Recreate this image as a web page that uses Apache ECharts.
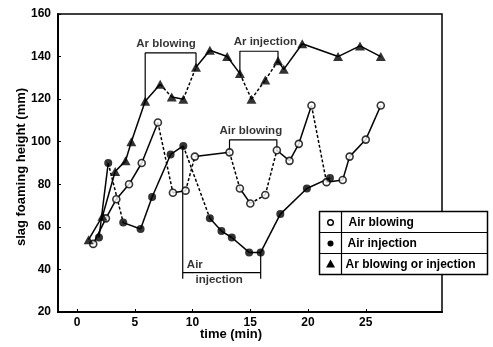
<!DOCTYPE html>
<html>
<head>
<meta charset="utf-8">
<script src="https://cdn.jsdelivr.net/npm/echarts@6/dist/echarts.min.js"></script>
<style>
  html, body { margin: 0; padding: 0; background: #fff; }
  #chart { width: 493px; height: 347px; }
</style>
</head>
<body>
<div id="chart"></div>
<script>
// Air blowing (open circles)
var blowX = [1.4, 2.5, 3.4, 4.5, 5.6, 7.0, 8.3, 9.4, 10.2, 13.2, 14.1, 15.0, 16.3, 17.3, 18.4, 19.2, 20.3, 21.6, 23.0, 23.6, 25.0, 26.3];
var blowY = [52, 64, 73, 80, 90, 109, 76, 77, 93, 95, 78, 71, 75, 96, 91, 99, 117, 81, 82, 93, 101, 117];
var blowDashedSegs = [5, 7, 9, 11, 12, 16];

// Air injection (filled circles)
var injX = [1.9, 2.7, 4.0, 5.5, 6.5, 8.1, 9.2, 11.5, 12.5, 13.4, 14.9, 15.9, 17.6, 19.9, 21.9];
var injY = [55, 90, 62, 59, 74, 94, 98, 64, 58, 55, 48, 48, 66, 78, 83];
var injDashedSegs = [1, 6];

// Ar blowing or injection (triangles)
var bothX = [1.0, 2.2, 3.3, 4.2, 4.7, 5.9, 7.2, 8.2, 9.2, 10.3, 11.5, 13.0, 14.1, 15.1, 16.3, 17.4, 17.9, 19.5, 22.6, 24.5, 26.3];
var bothY = [54, 65, 86, 91, 100, 119, 127, 121, 120, 135, 143, 140, 132, 120, 129, 138, 134, 146, 140, 145, 140];
var bothDashedSegs = [6, 8, 12, 13, 14];

var xTicks = [0, 5, 10, 15, 20, 25];
var legendNames = ['Air blowing', 'Air injection', 'Ar blowing or injection'];

// bracket annotations (data coordinates)
var brackets = [
    [[5.9, 119], [5.9, 141.7], [10.3, 141.7], [10.3, 135]],
    [[14.1, 132], [14.1, 142.5], [17.4, 142.5], [17.4, 138]],
    [[13.2, 95], [13.2, 100.9], [17.3, 100.9], [17.3, 96]],
    [[9.15, 98], [9.15, 35.6], [9.15, 38.5], [15.9, 38.5], [15.9, 48], [15.9, 35.6]]
];
var notes = [
    {name: 'Ar blowing', value: [7.7, 145.9]},
    {name: 'Ar injection', value: [16.3, 147.1]},
    {name: 'Air blowing', value: [15.05, 105]},
    {name: 'Air', value: [10.2, 42.2]},
    {name: 'injection', value: [12.3, 35.1]}
];

var font = 'Liberation Sans';

function zip(xs, ys) {
    return xs.map(function (x, i) { return [x, ys[i]]; });
}

function segmentSeries(xs, ys, dashed) {
    var out = [];
    for (var i = 0; i < xs.length - 1; i++) {
        var isDash = dashed.indexOf(i) >= 0;
        out.push({
            type: 'line',
            data: [[xs[i], ys[i]], [xs[i + 1], ys[i + 1]]],
            symbol: 'none',
            silent: true,
            lineStyle: {color: '#000', width: 1.5, type: isDash ? [3, 2] : 'solid'},
            z: 2
        });
    }
    return out;
}

var series = [];
series = series.concat(segmentSeries(blowX, blowY, blowDashedSegs));
series = series.concat(segmentSeries(injX, injY, injDashedSegs));
series = series.concat(segmentSeries(bothX, bothY, bothDashedSegs));

brackets.forEach(function (b) {
    series.push({
        type: 'line',
        data: b,
        symbol: 'none',
        silent: true,
        lineStyle: {color: '#000', width: 1.2},
        z: 1
    });
});

series.push({
    type: 'scatter', data: zip(blowX, blowY), symbol: 'circle', symbolSize: 7,
    itemStyle: {color: '#fff', borderColor: '#000', borderWidth: 1.6}, z: 5
});
series.push({
    type: 'scatter', data: zip(injX, injY), symbol: 'circle', symbolSize: 8,
    itemStyle: {color: '#000'}, z: 5
});
series.push({
    type: 'scatter', data: zip(bothX, bothY), symbol: 'triangle', symbolSize: [10, 9],
    itemStyle: {color: '#000'}, z: 5
});
series.push({
    type: 'scatter', data: notes, symbolSize: 0, silent: true,
    label: {
        show: true, position: 'inside', formatter: '{b}',
        color: '#000', fontFamily: font, fontWeight: 'bold', fontSize: 11.5,
        backgroundColor: '#fff', padding: [0, 1]
    },
    z: 6
});

var chart = echarts.init(document.getElementById('chart'));

var option = {
    animation: false,
    backgroundColor: '#fff',
    grid: {
        left: 58, right: 51, top: 14, bottom: 35,
        show: true, borderColor: '#000', borderWidth: 1.5
    },
    xAxis: {
        type: 'value',
        min: -1.65, max: 31.6,
        name: 'time (min)',
        nameLocation: 'middle',
        nameGap: 16,
        nameMoveOverlap: false,
        nameTextStyle: {color: '#000', fontFamily: font, fontWeight: 'bold', fontSize: 13, padding: [0, 38, 0, 0]},
        splitLine: {show: false},
        axisLine: {onZero: false, lineStyle: {color: '#000', width: 2}},
        axisTick: {inside: true, length: 3, customValues: xTicks, lineStyle: {color: '#000'}},
        axisLabel: {customValues: xTicks, color: '#000', fontFamily: font, fontWeight: 'bold', fontSize: 12, margin: 5}
    },
    yAxis: {
        type: 'value',
        min: 20, max: 160, interval: 20,
        name: 'slag foaming height (mm)',
        nameLocation: 'middle',
        nameGap: 30,
        nameMoveOverlap: false,
        nameTextStyle: {color: '#000', fontFamily: font, fontWeight: 'bold', fontSize: 13, padding: [0, 8, 0, 0]},
        splitLine: {show: false},
        axisLine: {show: true, onZero: false, lineStyle: {color: '#000', width: 2}},
        axisTick: {show: true, inside: true, length: 3, lineStyle: {color: '#000'}},
        axisLabel: {color: '#000', fontFamily: font, fontWeight: 'bold', fontSize: 12, margin: 7}
    },
    series: series,
    graphic: [{
        type: 'group',
        left: 317, top: 209,
        children: [
            {type: 'rect', shape: {x: 0, y: 0, width: 168, height: 63}, style: {fill: '#fff', stroke: '#000', lineWidth: 1.5}},
            {type: 'line', shape: {x1: 0, y1: 21, x2: 168, y2: 21}, style: {stroke: '#000', lineWidth: 1.2}},
            {type: 'line', shape: {x1: 0, y1: 42, x2: 168, y2: 42}, style: {stroke: '#000', lineWidth: 1.2}},
            {type: 'line', shape: {x1: 22, y1: 0, x2: 22, y2: 63}, style: {stroke: '#000', lineWidth: 1.2}},
            {type: 'circle', shape: {cx: 11, cy: 11, r: 2.8}, style: {fill: '#fff', stroke: '#000', lineWidth: 1.4}},
            {type: 'circle', shape: {cx: 11, cy: 32, r: 3}, style: {fill: '#000'}},
            {type: 'polygon', shape: {points: [[11, 48], [6.5, 56], [15.5, 56]]}, style: {fill: '#000'}},
            {type: 'text', x: 29, y: 11, style: {text: legendNames[0], fill: '#000', font: 'bold 12px "Liberation Sans"', verticalAlign: 'middle'}},
            {type: 'text', x: 28, y: 32, style: {text: legendNames[1], fill: '#000', font: 'bold 12px "Liberation Sans"', verticalAlign: 'middle'}},
            {type: 'text', x: 26, y: 53, style: {text: legendNames[2], fill: '#000', font: 'bold 12px "Liberation Sans"', verticalAlign: 'middle'}}
        ],
        z: 100
    }]
};

option && chart.setOption(option);
</script>
</body>
</html>
